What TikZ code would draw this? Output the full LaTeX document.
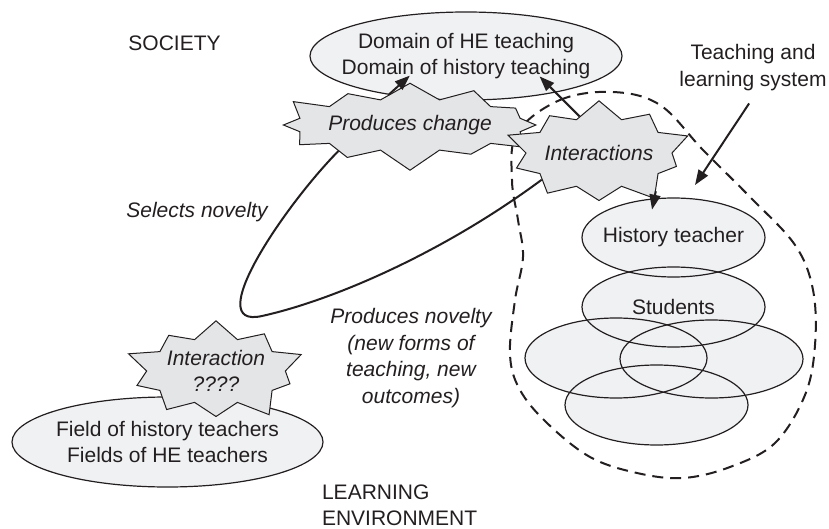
\documentclass[tikz,border=0pt]{standalone}
\usepackage{fontspec}
\setmainfont{Liberation Sans}
\usetikzlibrary{arrows.meta,calc,shapes.geometric,shapes.symbols}
\definecolor{ink}{RGB}{35,31,32}
\definecolor{ovalgray}{RGB}{240,241,243}
\definecolor{burstgray}{RGB}{228,229,231}
\newcommand{\figfont}{\fontsize{10.5}{13.25}\selectfont}
\tikzset{oval/.style={ellipse,draw=ink,line width=0.6pt,inner sep=0pt,align=center,text=ink},
  burst/.style={starburst,starburst points=10,starburst point height=12pt,draw=ink,line width=0.5pt,
    fill=burstgray,inner sep=0pt,align=center,text=ink,font=\figfont\itshape},
  lbl/.style={text=ink,align=center},
  arr/.style={-{Triangle[length=7.5pt,width=5.5pt]},line width=1pt,ink},
  bigloop/.style={line width=1pt,ink},
  sysloop/.style={line width=1pt,ink,dash pattern=on 5.5pt off 3.5pt}}

\begin{document}
\begin{tikzpicture}[x=0.5pt,y=-0.5pt,font=\figfont]
\useasboundingbox (0,0) rectangle (829,529);

% boundary of the teaching and learning system
\draw[sysloop] plot[smooth cycle,tension=0.6] coordinates {(517,133) (560,100) (613,92) (660,105)
  (703,150) (750,197) (795,245) (813,290) (815,345) (805,395) (775,443) (730,467) (683,478)
  (637,473) (590,457) (547,423) (520,390) (510,355) (515,300) (523,257) (518,220) (512,180)};

% the two big domains
\node[oval,fill=ovalgray,minimum width=156pt,minimum height=44pt,inner xsep=-7pt] (domain) at (466,56)
  {Domain of HE teaching\\Domain of history teaching};
\node[oval,fill=ovalgray,minimum width=155.5pt,minimum height=45pt,inner xsep=-3pt] (field) at (167.5,442)
  {Field of history teachers\\Fields of HE teachers};

% overlapping ovals: fill first, outlines on top
\foreach \cx/\cy/\rx/\ry in {673.5/237.5/45.75pt/19.75pt, 673.5/307/45.75pt/20pt,
  616/358/45.5pt/20pt, 711.5/359/45.75pt/19.5pt, 656.5/405/45.75pt/20pt}
  \fill[ovalgray] (\cx,\cy) ellipse [x radius=\rx-0.3pt, y radius=\ry-0.3pt];
\node[oval,minimum width=91.5pt,minimum height=39.5pt,inner xsep=-5pt] (teacher) at (673.5,237.5) {History teacher};
\node[oval,minimum width=91.5pt,minimum height=40pt] (students) at (673.5,307) {Students};
\node[oval,minimum width=91pt,minimum height=40pt] (groupl) at (616,358) {};
\node[oval,minimum width=91.5pt,minimum height=39pt] (groupr) at (711.5,359) {};
\node[oval,minimum width=91.5pt,minimum height=40pt] (groupb) at (656.5,405) {};

% starbursts
\node[burst,starburst points=12,starburst point height=11pt,minimum width=136pt,minimum height=48pt,
  inner xsep=-6pt] (change) at (410,125) {Produces change};
\node[burst,minimum width=97pt,minimum height=59pt,inner xsep=-5pt] (interact) at (599,153) {Interactions};
\node[burst,minimum width=93pt,minimum height=57pt] (interq) at (216,371) {Interaction\\????};

% selection loop
\draw[bigloop] (change.200) .. controls (285,205) and (200,330) .. (262,316)
  .. controls (330,301) and (440,255) .. (interact.205);

% labels
\node[lbl] (society) at (174.5,43) {SOCIETY};
\node[lbl,font=\figfont\itshape] (selects) at (197,212) {Selects novelty};
\node[lbl,font=\figfont\itshape] (novelty) at (411,358) {Produces novelty\\(new forms of\\teaching, new\\outcomes)};
\node[lbl,anchor=west,align=left] (learnenv) at (315,505.5) {LEARNING\\ENVIRONMENT};
\node[lbl] (tls) at (753,67.5) {Teaching and\\learning system};
\coordinate (tlstip) at (695,185);

% arrows
\draw[arr] (change.125) -- ++(21,-19);
\draw[arr] (interact.118) -- ++(-40,-40);
\draw[arr,shorten >=-5.8pt] (interact.326) -- (teacher.116);
\draw[arr,shorten <=3.5pt] (tls.south) -- (tlstip);
\end{tikzpicture}
\end{document}
